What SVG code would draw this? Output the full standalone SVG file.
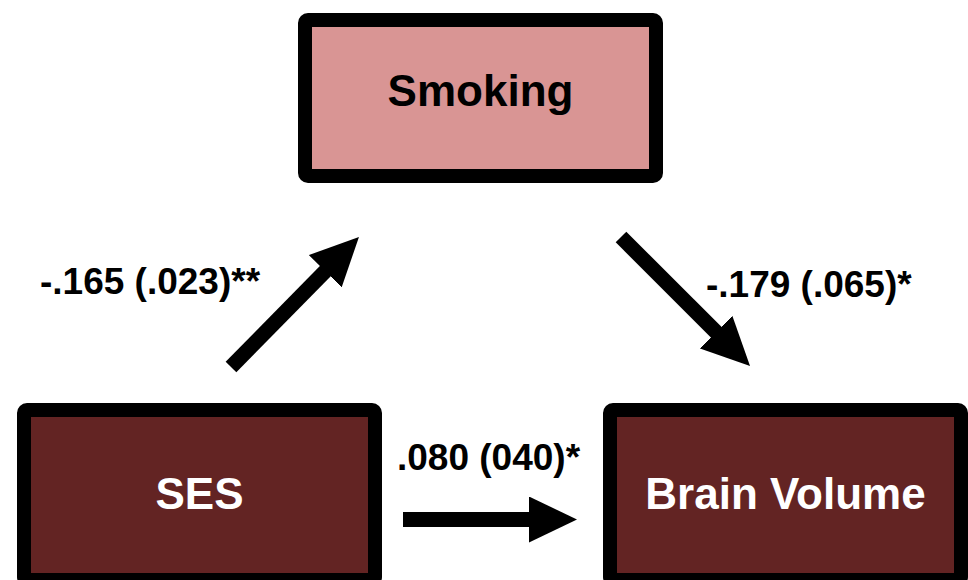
<svg xmlns="http://www.w3.org/2000/svg" width="968" height="580" viewBox="0 0 968 580">
<style>
.box{stroke:#000;stroke-width:14}
.light{fill:#d99594}
.dark{fill:#632423}
.lbl{font-family:"Liberation Sans",Arial,sans-serif;font-weight:bold;font-size:44px;text-anchor:middle}
.coef{font-family:"Liberation Sans",Arial,sans-serif;font-weight:bold;font-size:37px;fill:#000}
.arr{stroke:#000;stroke-width:15;fill:none;marker-end:url(#head)}
</style>
<defs>
<marker id="head" markerUnits="userSpaceOnUse" markerWidth="48" markerHeight="46" refX="16" refY="23" orient="auto" viewBox="0 0 48 46">
<path d="M0,0 L48,23 L0,46 Z" fill="#000"/>
</marker>
</defs>
<rect width="968" height="580" fill="#fff"/>
<g id="smoking">
<rect class="box light" x="305" y="20" width="351" height="156" rx="3"/>
<text class="lbl" x="480.5" y="106" fill="#000">Smoking</text>
</g>
<g id="ses">
<rect class="box dark" x="24" y="410" width="351" height="170" rx="3"/>
<text class="lbl" x="199.5" y="509" fill="#fff">SES</text>
</g>
<g id="brain">
<rect class="box dark" x="610" y="410" width="351" height="170" rx="3"/>
<text class="lbl" x="785.5" y="509" fill="#fff">Brain Volume</text>
</g>
<g id="connectors">
<line class="arr" x1="231" y1="367" x2="336.5" y2="259.8"/>
<line class="arr" x1="621" y1="237" x2="727.4" y2="343.4"/>
<line class="arr" x1="403" y1="519.5" x2="545" y2="519.5"/>
<text class="coef" x="40" y="294">-.165 (.023)**</text>
<text class="coef" x="706" y="297">-.179 (.065)*</text>
<text class="coef" x="397" y="470">.080 (040)*</text>
</g>
</svg>
